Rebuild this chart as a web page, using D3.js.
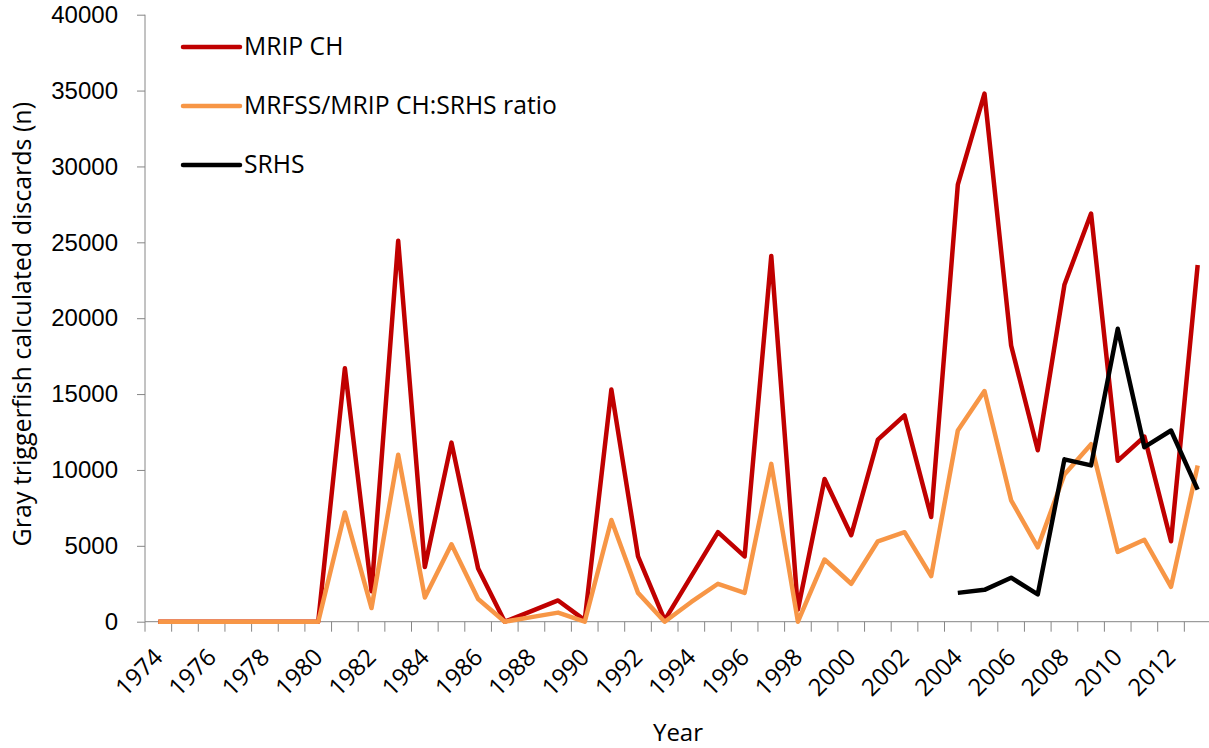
<!DOCTYPE html>
<html lang="en"><head><meta charset="utf-8"></head><body style="margin:0;background:#fff;">
<style>
  body { font-family: "Open Sans", sans-serif; }
  .axis path, .axis line { stroke: #868686; }
  .axis text { fill: #000; }
</style>
<script src="https://d3js.org/d3.v7.min.js"></script>
<div id="chart"></div>
<script>
// categories
var years = d3.range(1974, 2014);
// MRIP CH
var mripCH = [0, 0, 0, 0, 0, 0, 0, 16700, 2000, 25100, 3600, 11800, 3500, 0, 700, 1400, 100, 15300, 4300, 100,
  3000, 5900, 4300, 24100, 800, 9400, 5700, 12000, 13600, 6900, 28800, 34800, 18200, 11300, 22200, 26900, 10600, 12200, 5300, 23500];
// MRFSS/MRIP CH:SRHS ratio
var ratio = [0, 0, 0, 0, 0, 0, 0, 7200, 900, 11000, 1600, 5100, 1500, 0, 300, 600, 0, 6700, 1900, 0,
  1300, 2500, 1900, 10400, 0, 4100, 2500, 5300, 5900, 3000, 12600, 15200, 8000, 4900, 9700, 11700, 4600, 5400, 2300, 10300];
// SRHS (2004 onward)
var srhs = [null, null, null, null, null, null, null, null, null, null, null, null, null, null, null, null, null, null, null, null,
  null, null, null, null, null, null, null, null, null, null, 1900, 2100, 2900, 1800, 10700, 10300, 19300, 11500, 12600, 8700];
var yTicks = [0, 5000, 10000, 15000, 20000, 25000, 30000, 35000, 40000];

var series = [
  { name: "MRIP CH", values: mripCH, color: "#C00000" },
  { name: "MRFSS/MRIP CH:SRHS ratio", values: ratio, color: "#F79646" },
  { name: "SRHS", values: srhs, color: "#000000" }
];

var width = 1209, height = 748;
var mLeft = 145, mRight = 1211, mTop = 14.7, mBottom = 621.7;

var svg = d3.select("#chart").append("svg")
  .attr("width", width)
  .attr("height", height)
  .style("display", "block");

var x = d3.scaleBand().domain(years).range([mLeft, mRight]).padding(0);
var y = d3.scaleLinear().domain([0, 40000]).range([mBottom, mTop]);
var cx = d => x(d) + x.bandwidth() / 2;

// y axis
var gy = svg.append("g")
  .attr("class", "axis")
  .attr("transform", `translate(${mLeft},0)`)
  .call(d3.axisLeft(y).tickValues(yTicks).tickSize(8).tickPadding(19).tickFormat(d3.format("d")));
gy.selectAll("text").style("font-size", "24px");
gy.select(".domain").attr("d", `M0,${mTop}V${mBottom}`);

// x axis: ticks between categories, labels on every other year
var gx = svg.append("g")
  .attr("class", "axis")
  .attr("transform", `translate(0,${mBottom})`);
gx.append("line").attr("x1", mLeft).attr("x2", mRight).attr("y1", 0).attr("y2", 0);
gx.selectAll(".tk").data(years.concat([null])).join("line")
  .attr("class", "tk")
  .attr("x1", d => d === null ? mRight : x(d))
  .attr("x2", d => d === null ? mRight : x(d))
  .attr("y1", 0).attr("y2", 10);
gx.selectAll(".lbl").data(years.filter(d => d % 2 === 0)).join("text")
  .attr("class", "lbl")
  .attr("text-anchor", "end")
  .attr("transform", d => `translate(${cx(d) + 6},${37}) rotate(-45)`)
  .style("font-size", "24px")
  .text(d => d);

// lines
var line = d3.line()
  .defined(d => d.v !== null)
  .x(d => cx(d.year))
  .y(d => y(d.v));

series.forEach(function (s) {
  svg.append("path")
    .datum(years.map((yr, i) => ({ year: yr, v: s.values[i] })))
    .attr("fill", "none")
    .attr("stroke", s.color)
    .attr("stroke-width", 4.5)
    .attr("stroke-linejoin", "round")
    .attr("d", line);
});

// legend
var lg = svg.append("g");
series.forEach(function (s, i) {
  var ly = 47 + i * 59;
  lg.append("line")
    .attr("x1", 183).attr("x2", 240)
    .attr("y1", ly).attr("y2", ly)
    .attr("stroke", s.color).attr("stroke-width", 4.5)
    .attr("stroke-linecap", "round");
  lg.append("text")
    .attr("x", 244).attr("y", ly + 8)
    .style("font-size", "24.7px")
    .text(s.name);
});

// axis titles
svg.append("text")
  .attr("transform", `translate(31,${(mTop + mBottom) / 2 + 6}) rotate(-90)`)
  .attr("text-anchor", "middle")
  .style("font-size", "25px")
  .text("Gray triggerfish calculated discards (n)");

svg.append("text")
  .attr("x", 678).attr("y", 741)
  .attr("text-anchor", "middle")
  .style("font-size", "24px")
  .text("Year");
</script>
</body></html>
